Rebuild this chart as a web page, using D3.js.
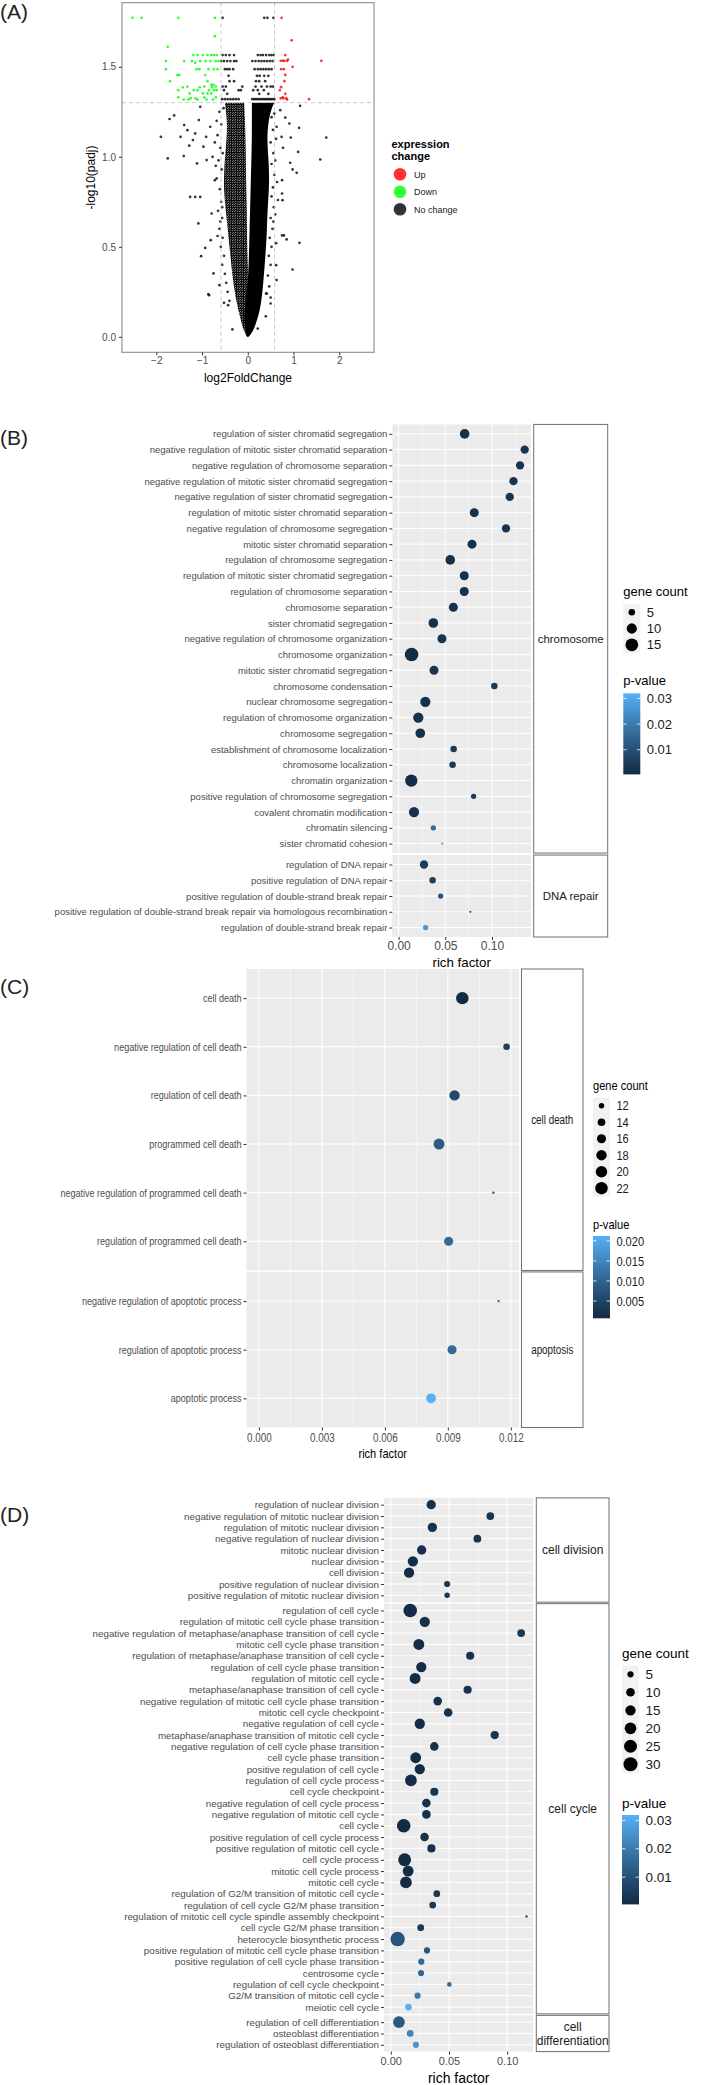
<!DOCTYPE html>
<html>
<head>
<meta charset="utf-8">
<script src="https://cdn.jsdelivr.net/npm/d3@7"></script>
<style>
  body { margin: 0; background: #fff; }
  svg text { font-family: "Liberation Sans", Arial, Helvetica, sans-serif; }
</style>
</head>
<body>
<svg id="fig" width="709" height="2085"></svg>
<script>
// ---------- (A) volcano data ----------
const volcanoXTicks = [-2, -1, 0, 1, 2];
const volcanoYTicks = [0.0, 0.5, 1.0, 1.5];
const foldCutoff = 0.585;
const padjCutoff = 1.301;
const expressionLabels = ["Up", "Down", "No change"];

const upGenes = [[0.74,1.772],[0.96,1.647],[1.61,1.533],[1.34,1.320],[0.82,1.565],[0.80,1.533],[0.86,1.533],
  [0.88,1.540],[0.72,1.533],[0.77,1.533],[0.98,1.50],[0.73,1.487],[0.79,1.487],[0.82,1.455],[0.80,1.42],
  [0.73,1.387],[0.70,1.37],[0.72,1.325],[0.78,1.325],[0.84,1.325],[0.86,1.318],[0.82,1.35],[0.76,1.33]];

const downGenes = [[-2.52,1.772],[-2.32,1.772],[-1.52,1.772],[-0.72,1.772],[-0.72,1.67],[-1.75,1.611],
  [-1.19,1.565],[-1.10,1.565],[-0.98,1.565],[-0.88,1.565],[-0.80,1.565],[-0.74,1.565],[-0.68,1.565],
  [-1.79,1.532],[-1.39,1.532],[-1.22,1.532],[-1.15,1.522],[-1.04,1.532],[-0.92,1.532],[-0.82,1.532],[-0.70,1.532],[-0.64,1.532],
  [-1.79,1.487],[-1.12,1.487],[-1.06,1.487],[-0.86,1.487],[-0.74,1.487],[-0.66,1.487],
  [-1.54,1.454],[-1.50,1.454],[-0.93,1.454],[-1.70,1.42],[-0.88,1.42],[-0.80,1.40],[-0.75,1.40],
  [-1.42,1.386],[-1.32,1.39],[-1.05,1.386],[-0.95,1.39],[-0.78,1.386],[-0.70,1.39],
  [-1.52,1.37],[-1.18,1.37],[-1.10,1.37],[-0.85,1.37],[-0.74,1.37],[-0.68,1.37],
  [-1.27,1.352],[-0.98,1.352],[-0.88,1.352],[-0.80,1.352],
  [-1.52,1.33],[-1.25,1.325],[-1.14,1.325],[-0.95,1.33],[-0.70,1.33],
  [-1.40,1.318],[-1.30,1.318],[-1.10,1.318],[-0.90,1.318],[-0.76,1.318]];

const noChangeGenes = [
  [-0.55,1.772],[0.36,1.772],[0.43,1.772],[0.56,1.772],
  [-0.55,1.565],[-0.48,1.565],[-0.40,1.565],[-0.30,1.565],[0.22,1.565],[0.28,1.565],[0.33,1.565],[0.40,1.565],[0.47,1.565],[0.52,1.565],[0.57,1.565],
  [-0.58,1.532],[-0.52,1.532],[-0.45,1.532],[-0.38,1.532],[-0.30,1.532],[-0.25,1.532],[0.10,1.532],[0.17,1.532],[0.24,1.532],[0.30,1.532],[0.36,1.532],[0.42,1.532],[0.48,1.532],[0.54,1.532],
  [-0.50,1.487],[-0.45,1.487],[-0.40,1.487],[-0.32,1.487],[0.15,1.487],[0.22,1.487],[0.28,1.487],[0.34,1.487],[0.40,1.487],[0.46,1.487],[0.52,1.487],
  [-0.42,1.45],[0.20,1.45],[0.26,1.45],[0.36,1.45],[0.45,1.45],
  [-0.40,1.42],[-0.30,1.42],[0.18,1.42],[0.25,1.42],[0.38,1.42],
  [-0.55,1.39],[-0.48,1.39],[-0.12,1.39],[0.17,1.39],[0.30,1.39],[0.42,1.39],[0.50,1.39],[0.55,1.39],
  [-0.52,1.37],[-0.20,1.37],[-0.15,1.37],[0.12,1.37],[0.22,1.37],[0.35,1.37],
  [-0.45,1.35],[0.25,1.35],[0.45,1.35],
  [-0.56,1.32],[-0.50,1.32],[-0.44,1.32],[-0.38,1.32],[-0.32,1.32],[-0.26,1.32],[-0.20,1.32],
  [0.10,1.32],[0.14,1.32],[0.18,1.32],[0.22,1.32],[0.26,1.32],[0.30,1.32],[0.34,1.32],[0.38,1.32],[0.42,1.32],[0.46,1.32],[0.50,1.32],[0.54,1.32],[0.58,1.32],
  [-1.90,1.111],[-1.75,0.991],[-1.71,1.21],[-1.61,1.23],[-1.47,1.111],[-1.40,1.004],[-1.39,1.176],[-1.32,1.148],
  [-1.28,1.062],[-1.26,0.777],[-1.15,0.777],[-1.04,0.777],[-1.08,0.63],[-0.93,0.494],[-1.02,0.448],[-0.86,0.237],
  [-1.20,1.093],[-1.11,0.963],[-1.15,1.13],[-1.07,1.204],[-1.04,1.278],[-0.97,1.056],[-0.91,1.111],[-0.82,1.167],
  [-0.90,0.982],[-0.77,1.0],[-0.72,0.87],[-0.79,0.685],[-0.81,0.537],[-0.75,0.352],[-0.62,0.287],
  [1.144,1.283],[1.716,1.107],[1.585,0.985],[1.122,1.161],[0.94,1.107],[1.10,1.027],[0.926,0.967],[0.98,0.930],
  [1.07,0.911],[0.77,1.05],[0.75,0.870],[0.76,0.759],[0.75,0.796],[1.13,0.522],[0.98,0.374],[0.85,0.541],
  [0.79,0.563],[0.75,0.563],[0.62,0.398],[0.63,0.315],[0.91,1.185],[0.82,1.218],[0.71,1.259],[0.63,1.167],[0.74,1.111],
  [-0.62,1.25],[-0.58,1.18],[-0.66,1.12],[-0.60,1.05],[-0.64,0.98],[-0.57,0.93],[-0.68,0.88],[-0.61,0.82],
  [-0.58,0.75],[-0.65,0.70],[-0.56,0.66],[-0.62,0.60],[-0.55,0.55],[-0.59,0.50],[-0.52,0.45],[-0.56,0.40],
  [-0.50,0.35],[-0.47,0.30],[-0.44,0.25],[-0.40,0.20],[-0.55,1.02],[-0.70,0.95],[-0.72,1.08],[-0.68,1.20],
  [-0.53,1.27],[-0.56,0.72],[-0.60,0.64],[-0.66,0.56],
  [0.52,1.22],[0.55,1.15],[0.50,1.08],[0.56,1.02],[0.52,0.96],[0.58,0.90],[0.55,0.83],[0.52,0.78],
  [0.57,0.72],[0.50,0.66],[0.54,0.60],[0.48,0.55],[0.52,0.50],[0.46,0.45],[0.50,0.40],[0.44,0.34],
  [0.47,0.28],[0.40,0.24],[0.62,1.10],[0.60,0.98],[0.64,0.86],[0.66,0.76],[0.58,1.24],[0.60,0.68],[0.56,0.64],[0.62,0.52],
  [-0.847,0.231],[-0.52,0.189],[-0.43,0.176],[-0.336,0.041],[0.218,0.046],[0.394,0.114],[0.50,0.218],[0.50,0.185],[0.415,0.24]];

// dense core of "No change" genes: [padj, left log2FC, right log2FC]
const coreLeft = [[1.30,-0.50,-0.08],[1.20,-0.45,-0.06],[1.10,-0.46,-0.05],[1.00,-0.50,-0.04],[0.90,-0.52,-0.04],
  [0.80,-0.52,-0.03],[0.70,-0.48,-0.02],[0.60,-0.44,-0.02],[0.50,-0.40,-0.01],[0.40,-0.36,0.0],[0.30,-0.32,0.02],
  [0.20,-0.25,0.05],[0.12,-0.18,0.04],[0.06,-0.12,0.03],[0.02,-0.06,0.02],[0.0,-0.02,0.0]];
const coreRight = [[1.30,0.09,0.58],[1.27,0.09,0.52],[1.20,0.09,0.45],[1.10,0.09,0.42],[1.00,0.08,0.45],
  [0.90,0.07,0.47],[0.80,0.06,0.46],[0.70,0.05,0.43],[0.60,0.04,0.42],[0.50,0.03,0.40],[0.40,0.02,0.37],
  [0.30,0.0,0.34],[0.20,-0.05,0.30],[0.12,-0.08,0.24],[0.06,-0.06,0.16],[0.02,-0.04,0.09],[0.0,-0.01,0.02]];

// ---------- (B) chromosome / DNA repair ----------
const termsB = ["regulation of sister chromatid segregation","negative regulation of mitotic sister chromatid separation",
  "negative regulation of chromosome separation","negative regulation of mitotic sister chromatid segregation",
  "negative regulation of sister chromatid segregation","regulation of mitotic sister chromatid separation",
  "negative regulation of chromosome segregation","mitotic sister chromatid separation","regulation of chromosome segregation",
  "regulation of mitotic sister chromatid segregation","regulation of chromosome separation","chromosome separation",
  "sister chromatid segregation","negative regulation of chromosome organization","chromosome organization",
  "mitotic sister chromatid segregation","chromosome condensation","nuclear chromosome segregation",
  "regulation of chromosome organization","chromosome segregation","establishment of chromosome localization",
  "chromosome localization","chromatin organization","positive regulation of chromosome segregation",
  "covalent chromatin modification","chromatin silencing","sister chromatid cohesion",
  "regulation of DNA repair","positive regulation of DNA repair","positive regulation of double-strand break repair",
  "positive regulation of double-strand break repair via homologous recombination","regulation of double-strand break repair"];
const groupsB = Array(27).fill("chromosome").concat(Array(5).fill("DNA repair"));
const richB = [0.0707,0.135,0.130,0.123,0.119,0.081,0.115,0.0786,0.0553,0.0703,0.0703,0.0586,0.0372,0.0464,0.0139,0.0379,
  0.1025,0.0286,0.0211,0.0232,0.0589,0.0578,0.0136,0.0803,0.0165,0.0372,0.0468,0.0272,0.0364,0.045,0.0768,0.0289];
const countB = [9,7,7,7,7,8,7,8,9,8,8,8,9,8,17,8,5,10,10,9,5,5,14,4,10,4,3,7,5,4,3,4];
const pB = [0.002,0.003,0.003,0.003,0.003,0.002,0.003,0.002,0.002,0.002,0.002,0.002,0.002,0.003,0.0004,0.003,
  0.004,0.002,0.002,0.002,0.004,0.004,0.001,0.005,0.002,0.016,0.032,0.005,0.006,0.011,0.014,0.026];
const stripB = [["chromosome"],["DNA repair"]];
const xTicksB = [0, 0.05, 0.10];
const xMinorB = [0.025, 0.075, 0.125];
const sizeBreaksB = [5, 10, 15];
const pBreaksB = [0.01, 0.02, 0.03];

// ---------- (C) cell death / apoptosis ----------
const termsC = ["cell death","negative regulation of cell death","regulation of cell death","programmed cell death",
  "negative regulation of programmed cell death","regulation of programmed cell death",
  "negative regulation of apoptotic process","regulation of apoptotic process","apoptotic process"];
const groupsC = Array(6).fill("cell death").concat(Array(3).fill("apoptosis"));
const richC = [0.00969,0.0118,0.00932,0.00858,0.01117,0.00904,0.01142,0.0092,0.0082];
const countC = [22,13,18,19,11,16,11,16,17];
const pC = [0.0007,0.004,0.006,0.009,0.008,0.011,0.010,0.011,0.0212];
const stripC = [["cell death"],["apoptosis"]];
const xTicksC = [0, 0.003, 0.006, 0.009, 0.012];
const xMinorC = [0.0015, 0.0045, 0.0075, 0.0105];
const sizeBreaksC = [12, 14, 16, 18, 20, 22];
const pBreaksC = [0.005, 0.010, 0.015, 0.020];

// ---------- (D) cell division / cell cycle / cell differentiation ----------
const termsD = ["regulation of nuclear division","negative regulation of mitotic nuclear division",
  "regulation of mitotic nuclear division","negative regulation of nuclear division","mitotic nuclear division",
  "nuclear division","cell division","positive regulation of nuclear division","positive regulation of mitotic nuclear division",
  "regulation of cell cycle","regulation of mitotic cell cycle phase transition",
  "negative regulation of metaphase/anaphase transition of cell cycle","mitotic cell cycle phase transition",
  "regulation of metaphase/anaphase transition of cell cycle","regulation of cell cycle phase transition",
  "regulation of mitotic cell cycle","metaphase/anaphase transition of cell cycle",
  "negative regulation of mitotic cell cycle phase transition","mitotic cell cycle checkpoint",
  "negative regulation of cell cycle","metaphase/anaphase transition of mitotic cell cycle",
  "negative regulation of cell cycle phase transition","cell cycle phase transition","positive regulation of cell cycle",
  "regulation of cell cycle process","cell cycle checkpoint","negative regulation of cell cycle process",
  "negative regulation of mitotic cell cycle","cell cycle","positive regulation of cell cycle process",
  "positive regulation of mitotic cell cycle","cell cycle process","mitotic cell cycle process","mitotic cell cycle",
  "regulation of G2/M transition of mitotic cell cycle","regulation of cell cycle G2/M phase transition",
  "regulation of mitotic cell cycle spindle assembly checkpoint","cell cycle G2/M phase transition",
  "heterocycle biosynthetic process","positive regulation of mitotic cell cycle phase transition",
  "positive regulation of cell cycle phase transition","centrosome cycle","regulation of cell cycle checkpoint",
  "G2/M transition of mitotic cell cycle","meiotic cell cycle",
  "regulation of cell differentiation","osteoblast differentiation","regulation of osteoblast differentiation"];
const groupsD = Array(9).fill("cell division").concat(Array(36).fill("cell cycle"), Array(3).fill("cell differentiation"));
const richD = [0.0347,0.0855,0.0357,0.0744,0.0265,0.019,0.0157,0.0484,0.0484,0.0167,0.0292,0.112,0.0241,0.0682,0.0262,
  0.0209,0.066,0.0403,0.0493,0.0249,0.0893,0.0374,0.0214,0.0249,0.0173,0.0374,0.0306,0.0306,0.0111,0.029,0.0349,0.0119,
  0.0149,0.013,0.0395,0.036,0.1166,0.0257,0.0059,0.0311,0.0262,0.026,0.0503,0.023,0.0152,0.007,0.0167,0.0216];
const countD = [12,8,12,8,12,15,15,5,4,28,15,8,17,9,15,17,9,10,10,15,9,10,17,15,20,9,10,10,28,10,9,25,17,20,6,6,2,6,32,
  5,5,5,3,5,6,20,6,5];
const pD = [0.002,0.003,0.002,0.003,0.002,0.001,0.001,0.004,0.004,0.0008,0.002,0.004,0.001,0.003,0.001,0.001,0.003,0.002,
  0.002,0.001,0.003,0.002,0.001,0.001,0.0008,0.003,0.002,0.002,0.0004,0.002,0.002,0.0006,0.001,0.0008,0.004,0.004,0.006,
  0.004,0.011,0.012,0.016,0.015,0.016,0.020,0.0319,0.012,0.022,0.026];
const stripD = [["cell division"],["cell cycle"],["cell","differentiation"]];
const xTicksD = [0, 0.05, 0.10];
const xMinorD = [0.025, 0.075];
const sizeBreaksD = [5, 10, 15, 20, 25, 30];
const pBreaksD = [0.01, 0.02, 0.03];

const svg = d3.select("#fig");
const defs = svg.append("defs");

// speckled texture for the sparser (left) part of the unchanged-gene cloud
const speck = defs.append("pattern").attr("id", "speck").attr("patternUnits", "userSpaceOnUse")
  .attr("width", 2.4).attr("height", 2.4);
speck.append("circle").attr("cx", 0.6).attr("cy", 0.6).attr("r", 1.1).attr("fill", "#000");
speck.append("circle").attr("cx", 1.8).attr("cy", 1.8).attr("r", 1.1).attr("fill", "#000");

// panel letters
[["(A)", 19], ["(B)", 445], ["(C)", 994], ["(D)", 1522]].forEach(([t, y]) => {
  svg.append("text").attr("x", 0).attr("y", y).text(t)
    .style("font-size", "21px").attr("fill", "#222");
});

drawVolcano();

function drawVolcano() {
  const box = { left: 122, right: 374, top: 2.7, bottom: 352.3 };
  const x = d3.scaleLinear().domain([-2.75, 2.76]).range([box.left, box.right]);
  const y = d3.scaleLinear().domain([-0.086, 1.856]).range([box.bottom, box.top]);
  const g = svg.append("g");

  const area = d3.area().curve(d3.curveBasis)
    .y(d => y(d[0])).x0(d => x(d[1])).x1(d => x(d[2]));
  g.append("path").datum(coreLeft).attr("d", area).attr("fill", "url(#speck)");
  g.append("path").datum(coreRight).attr("d", area).attr("fill", "#000");

  const groups = [[noChangeGenes, "#000"], [downGenes, "#00ff00"], [upGenes, "#ff0000"]];
  groups.forEach(([pts, col]) => {
    g.append("g").selectAll("circle").data(pts).enter().append("circle")
      .attr("cx", d => x(d[0])).attr("cy", d => y(d[1])).attr("r", 1.35)
      .attr("fill", col).attr("fill-opacity", 0.8);
  });

  // cutoff lines
  [-foldCutoff, foldCutoff].forEach(v => {
    g.append("line").attr("x1", x(v)).attr("x2", x(v)).attr("y1", box.top).attr("y2", box.bottom)
      .attr("stroke", "#bdbdbd").attr("stroke-width", 0.8).attr("stroke-dasharray", "4,3");
  });
  g.append("line").attr("x1", box.left).attr("x2", box.right).attr("y1", y(padjCutoff)).attr("y2", y(padjCutoff))
    .attr("stroke", "#bdbdbd").attr("stroke-width", 0.8).attr("stroke-dasharray", "4,3");

  g.append("rect").attr("x", box.left).attr("y", box.top)
    .attr("width", box.right - box.left).attr("height", box.bottom - box.top)
    .attr("fill", "none").attr("stroke", "#8c8c8c").attr("stroke-width", 1.1);

  const ya = g.append("g").attr("transform", `translate(${box.left},0)`)
    .call(d3.axisLeft(y).tickValues(volcanoYTicks).tickFormat(d3.format(".1f")).tickSize(3).tickPadding(3));
  const xa = g.append("g").attr("transform", `translate(0,${box.bottom})`)
    .call(d3.axisBottom(x).tickValues(volcanoXTicks).tickFormat(d3.format("d")).tickSize(3).tickPadding(2));
  [ya, xa].forEach(a => {
    a.select(".domain").remove();
    a.selectAll("line").attr("stroke", "#333");
    a.selectAll("text").attr("fill", "#4d4d4d").style("font-size", "10px");
  });

  g.append("text").attr("x", (box.left + box.right) / 2).attr("y", 382)
    .attr("text-anchor", "middle").style("font-size", "12px").text("log2FoldChange");
  g.append("text").attr("transform", `translate(94.5,${(box.top + box.bottom) / 2}) rotate(-90)`)
    .attr("text-anchor", "middle").style("font-size", "12px").text("-log10(padj)");

  // legend
  const lg = g.append("g");
  lg.append("text").attr("x", 391.5).attr("y", 148).style("font-size", "11px").style("font-weight", "bold").text("expression");
  lg.append("text").attr("x", 391.5).attr("y", 160).style("font-size", "11px").style("font-weight", "bold").text("change");
  const keyColors = ["#ff0000", "#00ff00", "#000"];
  const keyY = d3.scalePoint().domain(expressionLabels).range([174.3, 209.3]);
  expressionLabels.forEach((lab, i) => {
    lg.append("circle").attr("cx", 400).attr("cy", keyY(lab)).attr("r", 6.3)
      .attr("fill", keyColors[i]).attr("fill-opacity", 0.8);
    lg.append("text").attr("x", 414).attr("y", keyY(lab) + 3.2).style("font-size", "9px").attr("fill", "#222").text(lab);
  });
}

function drawDots(cfg) {
  const g = svg.append("g");
  const facetNames = Array.from(new Set(cfg.groups));
  const sizes = facetNames.map(f => cfg.groups.filter(v => v === f).length);
  const unit = (cfg.bottom - cfg.top - cfg.gap * (facetNames.length - 1)) / d3.sum(sizes, n => n + 0.2);
  const xMax = d3.max(cfg.rich);
  const x = d3.scaleLinear().domain([-0.05 * xMax, 1.05 * xMax]).range([cfg.left, cfg.right]);
  const pExt = d3.extent(cfg.p);
  const color = d3.scaleLinear().domain(pExt).range(["#132B43", "#56B1F7"]).interpolate(d3.interpolateLab);
  const cnt = d3.scaleLinear().domain(d3.extent(cfg.count)).range([0, 1]);
  const rad = d3.scaleSqrt().domain([0, 1]).range(cfg.rRange);

  let top = cfg.top;
  facetNames.forEach((name, i) => {
    const h = (sizes[i] + 0.2) * unit;
    const rows = d3.range(cfg.terms.length).filter(k => cfg.groups[k] === name);
    const y = d3.scalePoint().domain(rows.map(k => cfg.terms[k]))
      .range([top + 0.6 * unit, top + h - 0.6 * unit]);

    g.append("rect").attr("x", cfg.left).attr("y", top).attr("width", cfg.right - cfg.left).attr("height", h)
      .attr("fill", "#EBEBEB");
    g.append("g").selectAll("line").data(cfg.xMinor).enter().append("line")
      .attr("x1", d => x(d)).attr("x2", d => x(d)).attr("y1", top).attr("y2", top + h)
      .attr("stroke", "#fff").attr("stroke-width", 0.5);
    g.append("g").selectAll("line").data(cfg.xTicks).enter().append("line")
      .attr("x1", d => x(d)).attr("x2", d => x(d)).attr("y1", top).attr("y2", top + h)
      .attr("stroke", "#fff").attr("stroke-width", 1);
    g.append("g").selectAll("line").data(y.domain()).enter().append("line")
      .attr("x1", cfg.left).attr("x2", cfg.right).attr("y1", d => y(d)).attr("y2", d => y(d))
      .attr("stroke", "#fff").attr("stroke-width", 1);

    g.append("g").selectAll("circle").data(rows).enter().append("circle")
      .attr("cx", k => x(cfg.rich[k])).attr("cy", k => y(cfg.terms[k]))
      .attr("r", k => rad(cnt(cfg.count[k]))).attr("fill", k => color(cfg.p[k]));

    const ax = g.append("g").attr("transform", `translate(${cfg.left},0)`)
      .call(d3.axisLeft(y).tickSize(3).tickPadding(2));
    ax.select(".domain").remove();
    ax.selectAll("line").attr("stroke", "#333");
    ax.selectAll("text").attr("fill", "#4d4d4d").style("font-size", cfg.labelSize + "px");

    // facet strip
    g.append("rect").attr("x", cfg.stripLeft).attr("y", top)
      .attr("width", cfg.stripRight - cfg.stripLeft).attr("height", h)
      .attr("fill", "#fff").attr("stroke", "#6e6e6e").attr("stroke-width", 1);
    const lines = cfg.strip[i];
    const lh = cfg.stripSize * 1.15;
    lines.forEach((ln, j) => {
      g.append("text").attr("x", (cfg.stripLeft + cfg.stripRight) / 2)
        .attr("y", top + h / 2 + (j - (lines.length - 1) / 2) * lh + cfg.stripSize * 0.35)
        .attr("text-anchor", "middle").style("font-size", cfg.stripSize + "px").attr("fill", "#1a1a1a").text(ln);
    });
    top += h + cfg.gap;
  });

  const xa = g.append("g").attr("transform", `translate(0,${cfg.bottom})`)
    .call(d3.axisBottom(x).tickValues(cfg.xTicks).tickFormat(cfg.fmt).tickSize(3).tickPadding(cfg.xPad));
  xa.select(".domain").remove();
  xa.selectAll("line").attr("stroke", "#333");
  xa.selectAll("text").attr("fill", "#4d4d4d").style("font-size", cfg.tickFont + "px");
  g.append("text").attr("x", (cfg.left + cfg.right) / 2).attr("y", cfg.titleY)
    .attr("text-anchor", "middle").style("font-size", cfg.titleFont + "px").text("rich factor");

  // legend: gene count
  const L = cfg.legend;
  g.append("text").attr("x", L.x).attr("y", L.titleY).style("font-size", L.font + "px").text("gene count");
  const keyY = d3.scalePoint().domain(cfg.sizeBreaks)
    .range([L.keyY0, L.keyY0 + L.keyStep * (cfg.sizeBreaks.length - 1)]);
  cfg.sizeBreaks.forEach(b => {
    g.append("rect").attr("x", L.x).attr("y", keyY(b) - L.keyStep / 2).attr("width", 17).attr("height", L.keyStep)
      .attr("fill", "#F2F2F2");
    g.append("circle").attr("cx", L.x + 8.5).attr("cy", keyY(b)).attr("r", rad(cnt(b))).attr("fill", "#000");
    g.append("text").attr("x", L.x + 23.4).attr("y", keyY(b) + L.font * 0.35)
      .style("font-size", L.font + "px").attr("fill", "#1a1a1a").text(b);
  });

  // legend: p-value colour bar
  g.append("text").attr("x", L.x).attr("y", L.pTitleY).style("font-size", L.font + "px").text("p-value");
  const gid = "grad" + cfg.id;
  const grad = defs.append("linearGradient").attr("id", gid)
    .attr("x1", 0).attr("y1", 1).attr("x2", 0).attr("y2", 0);
  d3.range(11).forEach(i => {
    grad.append("stop").attr("offset", i / 10).attr("stop-color", color(pExt[0] + (pExt[1] - pExt[0]) * i / 10));
  });
  const barY = d3.scaleLinear().domain(pExt).range([L.barBottom, L.barTop]);
  g.append("rect").attr("x", L.x).attr("y", L.barTop).attr("width", 17).attr("height", L.barBottom - L.barTop)
    .attr("fill", `url(#${gid})`);
  cfg.pBreaks.forEach(b => {
    [[L.x, L.x + 3.4], [L.x + 13.6, L.x + 17]].forEach(([a, c]) => {
      g.append("line").attr("x1", a).attr("x2", c).attr("y1", barY(b)).attr("y2", barY(b))
        .attr("stroke", "#fff").attr("stroke-width", 0.8);
    });
    g.append("text").attr("x", L.x + 23.4).attr("y", barY(b) + L.font * 0.35)
      .style("font-size", L.font + "px").attr("fill", "#1a1a1a").text(cfg.pFmt(b));
  });

  if (cfg.condense < 1) {
    g.selectAll("text").each(function () {
      const w = this.getComputedTextLength();
      d3.select(this).attr("textLength", w * cfg.condense).attr("lengthAdjust", "spacingAndGlyphs");
    });
  }
}

drawDots({
  id: "B", terms: termsB, groups: groupsB, rich: richB, count: countB, p: pB, strip: stripB,
  left: 392.3, right: 531, top: 424.4, bottom: 937, gap: 2, stripLeft: 533.7, stripRight: 607.7,
  xTicks: xTicksB, xMinor: xMinorB, fmt: d3.format(".2f"), xPad: 1.7,
  labelSize: 9.5, tickFont: 12, titleFont: 13.3, titleY: 967, stripSize: 11.4,
  rRange: [1.13, 6.78], sizeBreaks: sizeBreaksB, pBreaks: pBreaksB, pFmt: d3.format(".2f"), condense: 1,
  legend: { x: 623.3, font: 13, titleY: 596, keyY0: 612.2, keyStep: 16.3, pTitleY: 685, barTop: 693.3, barBottom: 774.4 }
});

drawDots({
  id: "C", terms: termsC, groups: groupsC, rich: richC, count: countC, p: pC, strip: stripC,
  left: 246.5, right: 519, top: 969, bottom: 1427.5, gap: 1.5, stripLeft: 521.5, stripRight: 583,
  xTicks: xTicksC, xMinor: xMinorC, fmt: d3.format(".3f"), xPad: 2.7,
  labelSize: 11, tickFont: 12, titleFont: 13.5, titleY: 1458, stripSize: 12,
  rRange: [1.2, 6.2], sizeBreaks: sizeBreaksC, pBreaks: pBreaksC, pFmt: d3.format(".3f"), condense: 0.82,
  legend: { x: 593, font: 13.5, titleY: 1090, keyY0: 1105.7, keyStep: 16.5, pTitleY: 1228.5, barTop: 1236, barBottom: 1318.3 }
});

drawDots({
  id: "D", terms: termsD, groups: groupsD, rich: richD, count: countD, p: pD, strip: stripD,
  left: 384, right: 533.3, top: 1497.9, bottom: 2051.6, gap: 1.5, stripLeft: 536.3, stripRight: 609,
  xTicks: xTicksD, xMinor: xMinorD, fmt: d3.format(".2f"), xPad: 3,
  labelSize: 9.8, tickFont: 11, titleFont: 14, titleY: 2083, stripSize: 12,
  rRange: [1.2, 7.2], sizeBreaks: sizeBreaksD, pBreaks: pBreaksD, pFmt: d3.format(".2f"), condense: 1,
  legend: { x: 622, font: 13.5, titleY: 1657.5, keyY0: 1674.3, keyStep: 18, pTitleY: 1808, barTop: 1815, barBottom: 1904.4 }
});
</script>
</body>
</html>
